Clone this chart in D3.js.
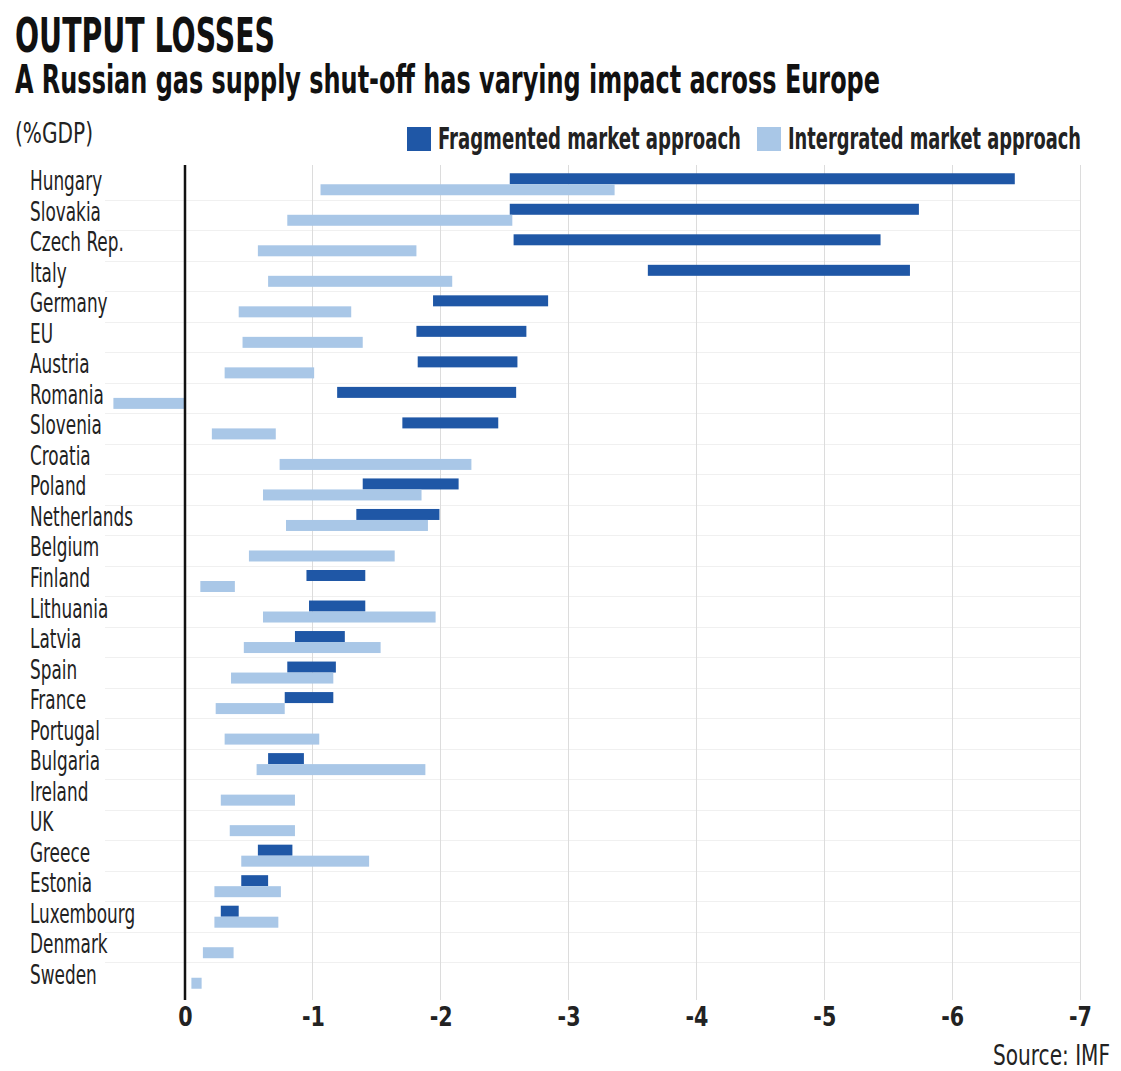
<!doctype html>
<head>
    <meta charset="utf-8">
    <title>Output losses</title>
    <script src="https://d3js.org/d3.v7.min.js"></script>
    <style>
        body {margin:0; background:#fff;}
        svg {display:block;}
        text {font-family:"Liberation Sans Narrow","DejaVu Sans Condensed","Roboto",sans-serif; fill:#222;}
        .grid line {stroke:#dcdcdc; shape-rendering:crispEdges;}
        .rowline {stroke:#f0f0f0; shape-rendering:crispEdges;}
        .axis path, .axis line {display:none;}
        .axis text {font-size:27px; font-weight:bold; fill:#222; font-family:"Liberation Sans Narrow","DejaVu Sans Condensed",sans-serif;}
    </style>
</head>
<body>
    <script>
        "use strict";
        var countries = ["Hungary", "Slovakia", "Czech Rep.", "Italy", "Germany", "EU", "Austria", "Romania",
            "Slovenia", "Croatia", "Poland", "Netherlands", "Belgium", "Finland", "Lithuania", "Latvia", "Spain",
            "France", "Portugal", "Bulgaria", "Ireland", "UK", "Greece", "Estonia", "Luxembourg", "Denmark", "Sweden"];

        // fragmented market approach: start and end of each range (% of GDP), null = no bar
        var fragStart = [-2.54, -2.54, -2.57, -3.62, -1.94, -1.81, -1.82, -1.19, -1.70, null, -1.39, -1.34, null,
            -0.95, -0.97, -0.86, -0.80, -0.78, null, -0.65, null, null, -0.57, -0.44, -0.28, null, null];
        var fragEnd = [-6.49, -5.74, -5.44, -5.67, -2.84, -2.67, -2.60, -2.59, -2.45, null, -2.14, -1.99, null,
            -1.41, -1.41, -1.25, -1.18, -1.16, null, -0.93, null, null, -0.84, -0.65, -0.42, null, null];

        // integrated market approach
        var intStart = [-1.06, -0.80, -0.57, -0.65, -0.42, -0.45, -0.31, 0.56, -0.21, -0.74, -0.61, -0.79, -0.50,
            -0.12, -0.61, -0.46, -0.36, -0.24, -0.31, -0.56, -0.28, -0.35, -0.44, -0.23, -0.23, -0.14, -0.05];
        var intEnd = [-3.36, -2.56, -1.81, -2.09, -1.30, -1.39, -1.01, 0, -0.71, -2.24, -1.85, -1.90, -1.64,
            -0.39, -1.96, -1.53, -1.16, -0.78, -1.05, -1.88, -0.86, -0.86, -1.44, -0.75, -0.73, -0.38, -0.13];

        var ticks = [0, -1, -2, -3, -4, -5, -6, -7];
        var seriesNames = ["Fragmented market approach", "Intergrated market approach"];
        var colors = ["#1f57a6", "#a9c7e7"];

        var width = 1121, height = 1071;
        var svg = d3.select("body").append("svg")
            .attr("width", width)
            .attr("height", height);

        var x = d3.scaleLinear().domain([0, -7]).range([185, 1080]);
        var y = d3.scaleBand().domain(countries).range([169, 993]);
        var barH = 11;

        // headings
        svg.append("text").attr("x", 15).attr("y", 52)
            .attr("textLength", 260).attr("lengthAdjust", "spacingAndGlyphs")
            .style("font-size", "48px").style("font-weight", "bold").style("fill", "#111")
            .text("OUTPUT LOSSES");
        svg.append("text").attr("x", 15).attr("y", 93)
            .attr("textLength", 865).attr("lengthAdjust", "spacingAndGlyphs")
            .style("font-size", "39px").style("font-weight", "bold").style("fill", "#111")
            .text("A Russian gas supply shut-off has varying impact across Europe");
        svg.append("text").attr("x", 15).attr("y", 143)
            .attr("textLength", 78).attr("lengthAdjust", "spacingAndGlyphs")
            .style("font-size", "29px")
            .text("(%GDP)");

        // legend
        var legendX = [407, 757], legendW = [303, 293];
        seriesNames.forEach(function (name, i) {
            svg.append("rect").attr("x", legendX[i]).attr("y", 127)
                .attr("width", 24).attr("height", 24).attr("fill", colors[i]);
            svg.append("text").attr("x", legendX[i] + 31).attr("y", 149)
                .attr("textLength", legendW[i]).attr("lengthAdjust", "spacingAndGlyphs")
                .style("font-size", "30px").style("font-weight", "bold")
                .text(name);
        });

        // faint row separators
        svg.append("g").selectAll("line")
            .data(countries.slice(1))
            .enter().append("line")
            .attr("class", "rowline")
            .attr("x1", 105).attr("x2", 1080)
            .attr("y1", function (d) { return Math.round(y(d)) + 0.5; })
            .attr("y2", function (d) { return Math.round(y(d)) + 0.5; });

        // vertical gridlines
        svg.append("g").attr("class", "grid")
            .selectAll("line")
            .data(ticks.slice(1))
            .enter().append("line")
            .attr("x1", function (d) { return x(d); })
            .attr("x2", function (d) { return x(d); })
            .attr("y1", 165).attr("y2", 1000);

        // bars
        var rows = countries.map(function (c, i) {
            return {c: c, f0: fragStart[i], f1: fragEnd[i], i0: intStart[i], i1: intEnd[i]};
        });
        var center = function (d) { return y(d.c) + y.bandwidth() / 2; };

        svg.append("g").selectAll("rect")
            .data(rows.filter(function (d) { return d.f0 !== null; }))
            .enter().append("rect")
            .attr("x", function (d) { return Math.min(x(d.f0), x(d.f1)); })
            .attr("width", function (d) { return Math.abs(x(d.f1) - x(d.f0)); })
            .attr("y", function (d) { return center(d) - barH; })
            .attr("height", barH)
            .attr("fill", colors[0]);

        svg.append("g").selectAll("rect")
            .data(rows)
            .enter().append("rect")
            .attr("x", function (d) { return Math.min(x(d.i0), x(d.i1)); })
            .attr("width", function (d) { return Math.abs(x(d.i1) - x(d.i0)); })
            .attr("y", function (d) { return center(d); })
            .attr("height", barH)
            .attr("fill", colors[1]);

        // zero axis
        svg.append("line")
            .attr("x1", x(0)).attr("x2", x(0))
            .attr("y1", 165).attr("y2", 1000)
            .attr("stroke", "#111").attr("stroke-width", 2.5);

        // country labels, squeezed so "Netherlands" is about 103px wide like the original
        var labels = svg.append("g").selectAll("text")
            .data(countries)
            .enter().append("text")
            .style("font-size", "27px")
            .text(function (d) { return d; });
        var refLen = labels.filter(function (d) { return d === "Netherlands"; }).node().getComputedTextLength();
        var sx = 103 / refLen;
        labels.attr("transform", function (d) {
            return "translate(30," + (y(d) + y.bandwidth() / 2 + 6) + ") scale(" + sx + ",1)";
        });

        // x axis labels (plain hyphen, as in the original)
        var xAxis = d3.axisBottom(x).tickValues(ticks).tickSize(0).tickPadding(0)
            .tickFormat(function (d) { return d === 0 ? "0" : "-" + Math.abs(d); });
        svg.append("g").attr("class", "axis")
            .attr("transform", "translate(0,1007)")
            .call(xAxis)
            .selectAll("text").attr("transform", "scale(0.85,1)");

        svg.append("text").attr("x", 993).attr("y", 1065)
            .attr("textLength", 117).attr("lengthAdjust", "spacingAndGlyphs")
            .style("font-size", "28px")
            .text("Source: IMF");
    </script>
</body>
</html>
